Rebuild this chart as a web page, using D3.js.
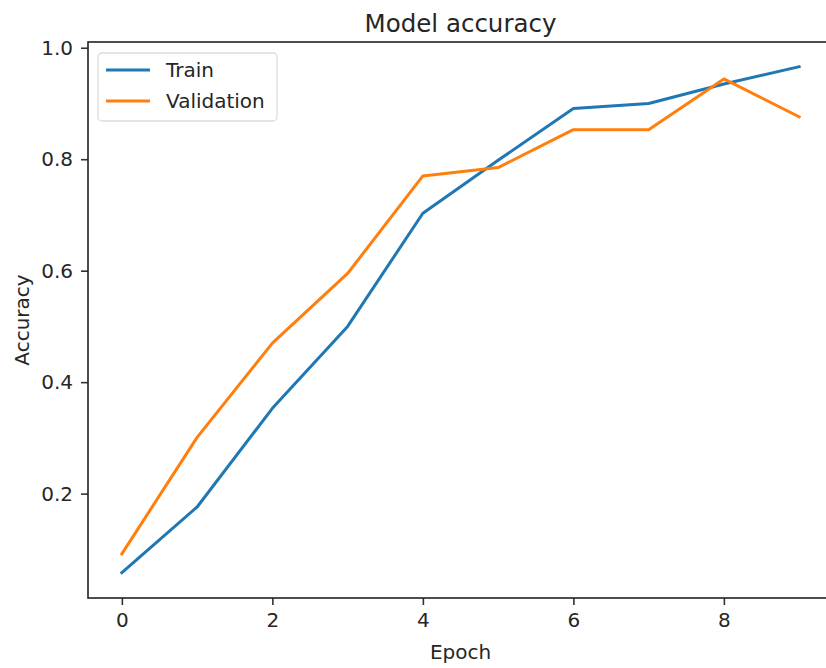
<!DOCTYPE html>
<html>
<head>
<meta charset="utf-8">
<script src="https://cdn.jsdelivr.net/npm/d3@7"></script>
<style>
  body { margin: 0; background: #fff; }
  text { font-family: "DejaVu Sans", sans-serif; fill: #262626; }
</style>
</head>
<body>
<div id="chart"></div>
<script>
const epochs = [0, 1, 2, 3, 4, 5, 6, 7, 8, 9];
const trainAcc = [0.058, 0.176, 0.353, 0.500, 0.703, 0.798, 0.891, 0.900, 0.935, 0.966];
const valAcc = [0.092, 0.301, 0.470, 0.595, 0.770, 0.785, 0.853, 0.853, 0.944, 0.876];
const xTicks = [0, 2, 4, 6, 8];
const yTicks = [0.2, 0.4, 0.6, 0.8, 1.0];
const seriesNames = ["Train", "Validation"];
const colors = ["#1f77b4", "#ff7f0e"];

const W = 826, H = 668;
const margin = { top: 42, right: -7, bottom: 70, left: 88 };
const width = W - margin.left - margin.right;
const height = H - margin.top - margin.bottom;

const svg = d3.select("#chart").append("svg")
    .attr("width", W)
    .attr("height", H);

const g = svg.append("g")
    .attr("transform", `translate(${margin.left},${margin.top})`);

const x = d3.scaleLinear().domain([-0.45, 9.45]).range([0, width]);
const y = d3.scaleLinear().domain([0.0127, 1.0103]).range([height, 0]);

// lines
const series = [trainAcc, valAcc];
const line = d3.line().x((d, i) => x(epochs[i])).y(d => y(d));
series.forEach((s, k) => {
    g.append("path")
        .datum(s)
        .attr("fill", "none")
        .attr("stroke", colors[k])
        .attr("stroke-width", 3)
        .attr("stroke-linejoin", "round")
        .attr("stroke-linecap", "square")
        .attr("d", line);
});

// axes
const xAxis = g.append("g")
    .attr("transform", `translate(0,${height})`)
    .call(d3.axisBottom(x).tickValues(xTicks).tickFormat(d3.format("d")).tickSize(7).tickPadding(8));
const yAxis = g.append("g")
    .call(d3.axisLeft(y).tickValues(yTicks).tickFormat(d3.format(".1f")).tickSize(7).tickPadding(8));

[xAxis, yAxis].forEach(a => {
    a.select(".domain").remove();
    a.selectAll("line").attr("stroke", "#333").attr("stroke-width", 1.6);
    a.selectAll("text").style("font-family", "DejaVu Sans, sans-serif").attr("font-size", 20).attr("fill", "#262626");
});

// frame
g.append("rect")
    .attr("width", width)
    .attr("height", height)
    .attr("fill", "none")
    .attr("stroke", "#222")
    .attr("stroke-width", 1.6);

// titles
svg.append("text")
    .attr("x", margin.left + width / 2)
    .attr("y", 32)
    .attr("text-anchor", "middle")
    .attr("font-size", 24.5)
    .text("Model accuracy");

svg.append("text")
    .attr("x", margin.left + width / 2)
    .attr("y", 659)
    .attr("text-anchor", "middle")
    .attr("font-size", 20)
    .text("Epoch");

svg.append("text")
    .attr("transform", `translate(29,${margin.top + height / 2}) rotate(-90)`)
    .attr("text-anchor", "middle")
    .attr("font-size", 20)
    .text("Accuracy");

// legend
const legend = g.append("g").attr("transform", "translate(10,11)");
legend.append("rect")
    .attr("width", 179)
    .attr("height", 68)
    .attr("rx", 4)
    .attr("fill", "#fff")
    .attr("fill-opacity", 0.8)
    .attr("stroke", "#ddd")
    .attr("stroke-width", 1.3);
seriesNames.forEach((name, i) => {
    const ly = 17 + i * 31;
    legend.append("line")
        .attr("x1", 8).attr("x2", 52)
        .attr("y1", ly).attr("y2", ly)
        .attr("stroke", colors[i])
        .attr("stroke-width", 3);
    legend.append("text")
        .attr("x", 68)
        .attr("y", ly + 7)
        .attr("font-size", 20)
        .text(name);
});
</script>
</body>
</html>
